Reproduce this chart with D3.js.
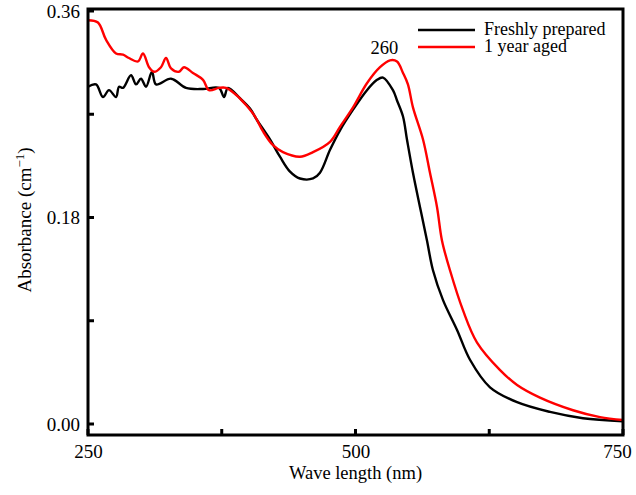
<!DOCTYPE html>
<html>
<head>
<meta charset="utf-8">
<script src="https://cdn.jsdelivr.net/npm/d3@7"></script>
<style>
  html, body { margin: 0; padding: 0; background: #fff; }
  svg text { font-family: "Liberation Serif", "Times New Roman", serif; fill: #000; }
</style>
</head>
<body>
<svg id="chart" width="636" height="495"></svg>
<script>
// ---- data ----
const freshWave = [250,257.5,264,269.6,276.2,279,282.7,290.2,294.9,299.5,304.2,309.8,313.6,327.6,341.6,357.5,372.4,377.1,380.8,392,401.4,407.9,420.1,429.4,438.8,448.1,460.3,466.8,476.2,485.5,497.7,510.7,520.1,525.7,535,538.8,544.4,548.1,553.7,560.3,566.8,572.4,581.8,594.9,607,625.7,651,681.8,712.6,750];
const freshAbs  = [0.294,0.296,0.285,0.291,0.285,0.294,0.293,0.304,0.296,0.301,0.294,0.307,0.296,0.301,0.293,0.292,0.293,0.285,0.293,0.284,0.275,0.265,0.248,0.233,0.220,0.214,0.214,0.219,0.239,0.256,0.274,0.291,0.300,0.302,0.291,0.282,0.268,0.248,0.219,0.189,0.160,0.134,0.108,0.082,0.056,0.032,0.019,0.0105,0.005,0.0024];
const agedWave  = [250,259.3,266.8,276.2,282.7,288.3,296.7,301.4,307,311.7,318.2,322.9,327.6,335,339.7,348.1,357.5,363.1,372.4,379,388.3,397.7,406.1,413.6,422.9,432.2,448.1,460.3,476.2,485.5,497.7,510.7,522.9,532.2,538.8,544.4,549,553.7,563.1,569.6,576.2,580.8,588.3,600.5,613.6,635.1,651,672.4,703.3,728.5,750];
const agedAbs   = [0.352,0.350,0.335,0.323,0.322,0.319,0.316,0.323,0.311,0.307,0.311,0.319,0.310,0.307,0.311,0.306,0.300,0.291,0.293,0.293,0.287,0.278,0.268,0.255,0.243,0.237,0.233,0.237,0.246,0.259,0.276,0.297,0.311,0.317,0.316,0.306,0.296,0.276,0.248,0.219,0.189,0.160,0.134,0.099,0.071,0.047,0.034,0.023,0.012,0.006,0.0035];
const xTickValues = [250, 500, 750];
const xMinorTicks = [375, 625];
const yTickValues = [0.00, 0.18, 0.36];
const yMinorTicks = [0.09, 0.27];
const seriesNames = ["Freshly prepared", "1 year aged"];
const seriesColors = ["#000000", "#ff0000"];
const peakLabel = "260";
const peakLabelWave = 527;

// ---- layout ----
const mLeft = 88, mRight = 623, mTop = 9, mBottom = 435;
const svg = d3.select("#chart");
const x = d3.scaleLinear().domain([250, 750]).range([mLeft, mRight]);
const y = d3.scaleLinear().domain([0, 0.36]).range([424, 11]);

const line = d3.line().x(d => x(d[0])).y(d => y(d[1])).curve(d3.curveCatmullRom.alpha(0.5));

const series = [
  d3.zip(freshWave, freshAbs),
  d3.zip(agedWave, agedAbs)
];

svg.append("path").datum(series[0]).attr("d", line)
  .attr("fill", "none").attr("stroke", seriesColors[0]).attr("stroke-width", 2.4);
svg.append("path").datum(series[1]).attr("d", line)
  .attr("fill", "none").attr("stroke", seriesColors[1]).attr("stroke-width", 2.4);

// frame
svg.append("rect").attr("x", mLeft).attr("y", mTop)
  .attr("width", mRight - mLeft).attr("height", mBottom - mTop)
  .attr("fill", "none").attr("stroke", "#000").attr("stroke-width", 3);

// x axis
const xAxis = d3.axisBottom(x).tickValues(xTickValues).tickSize(0).tickPadding(10)
  .tickFormat(d3.format("d"));
const gx = svg.append("g").attr("transform", `translate(0,${mBottom})`).call(xAxis);
gx.select(".domain").remove();
gx.selectAll("text").attr("font-size", 19).style("font-family", "Liberation Serif")
  .attr("dx", d => d === 750 ? -6 : 0);
svg.selectAll(".xtick").data(xTickValues.concat(xMinorTicks)).enter().append("line")
  .attr("x1", d => x(d)).attr("x2", d => x(d))
  .attr("y1", mBottom).attr("y2", mBottom - 6)
  .attr("stroke", "#000").attr("stroke-width", 3);

// y axis
const yAxis = d3.axisLeft(y).tickValues(yTickValues).tickSize(0).tickPadding(6)
  .tickFormat(d3.format(".2f"));
const gy = svg.append("g").attr("transform", `translate(${mLeft - 2},0)`).call(yAxis);
gy.select(".domain").remove();
gy.selectAll("text").attr("font-size", 19).style("font-family", "Liberation Serif");
svg.selectAll(".ytick").data(yTickValues.concat(yMinorTicks)).enter().append("line")
  .attr("x1", mLeft).attr("x2", mLeft + 6)
  .attr("y1", d => y(d)).attr("y2", d => y(d))
  .attr("stroke", "#000").attr("stroke-width", 3);

// axis titles
svg.append("text").attr("x", (mLeft + mRight) / 2).attr("y", 479)
  .attr("text-anchor", "middle").attr("font-size", 18.5).text("Wave length (nm)");
const yt = svg.append("text").attr("transform", `translate(31,220) rotate(-90)`)
  .attr("text-anchor", "middle").attr("font-size", 19);
yt.append("tspan").text("Absorbance (cm");
yt.append("tspan").attr("dy", -7).attr("font-size", 13).text("\u22121");
yt.append("tspan").attr("dy", 7).text(")");

// peak label
svg.append("text").attr("x", x(peakLabelWave)).attr("y", 54)
  .attr("text-anchor", "middle").attr("font-size", 18.5).text(peakLabel);

// legend
const lg = svg.append("g");
seriesNames.forEach((name, i) => {
  const ly = 30 + i * 17;
  lg.append("line").attr("x1", 418).attr("x2", 475).attr("y1", ly).attr("y2", ly)
    .attr("stroke", seriesColors[i]).attr("stroke-width", 2.5);
  lg.append("text").attr("x", 484).attr("y", ly + 5).attr("font-size", 18).text(name);
});
</script>
</body>
</html>
